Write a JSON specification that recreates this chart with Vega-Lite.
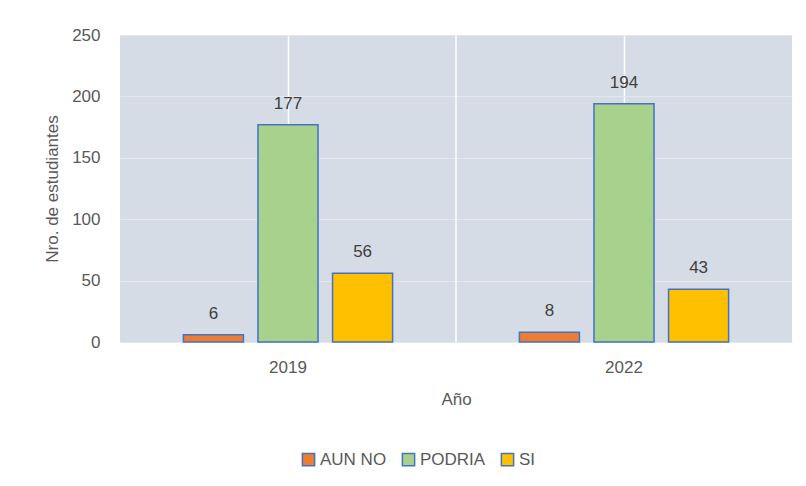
{
  "$schema": "https://vega.github.io/schema/vega-lite/v6.json",
  "width": 672,
  "height": 307,
  "autosize": {"type": "none"},
  "padding": {"left": 120, "top": 35, "right": 14, "bottom": 144},
  "background": "white",
  "config": {
    "font": "Liberation Sans",
    "view": {"fill": "#D6DCE5", "stroke": null}
  },
  "data": {
    "values": [
      {"Año": "2019", "Categoria": "AUN NO", "n": 6},
      {"Año": "2019", "Categoria": "PODRIA", "n": 177},
      {"Año": "2019", "Categoria": "SI", "n": 56},
      {"Año": "2022", "Categoria": "AUN NO", "n": 8},
      {"Año": "2022", "Categoria": "PODRIA", "n": 194},
      {"Año": "2022", "Categoria": "SI", "n": 43}
    ]
  },
  "encoding": {
    "x": {
      "field": "Año", "type": "nominal",
      "scale": {"paddingInner": 0, "paddingOuter": 0},
      "axis": {
        "labelAngle": 0, "domain": false, "ticks": false,
        "labelFontSize": 17, "labelColor": "#595959", "labelPadding": 17,
        "title": "Año", "titleFontSize": 17, "titleFontWeight": "normal",
        "titleColor": "#595959", "titlePadding": 16,
        "grid": true, "gridColor": "#FFFFFF", "gridWidth": 1.5
      }
    },
    "xOffset": {
      "field": "Categoria", "type": "nominal",
      "scale": {"paddingInner": 0.195, "paddingOuter": 0.85}
    },
    "y": {
      "field": "n", "type": "quantitative",
      "scale": {"domain": [0, 250]},
      "axis": {
        "tickCount": 5, "domain": false, "ticks": false,
        "labelFontSize": 17, "labelColor": "#595959", "labelPadding": 20,
        "title": "Nro. de estudiantes", "titleFontSize": 17, "titleFontWeight": "normal",
        "titleColor": "#595959", "titlePadding": 10,
        "gridColor": "#E4E7EC", "gridWidth": 1
      }
    }
  },
  "layer": [
    {
      "data": {"values": [{"Año": "2019"}]},
      "mark": {"type": "rule", "color": "#FFFFFF", "strokeWidth": 1.5},
      "encoding": {
        "x": {"field": "Año", "type": "nominal", "bandPosition": 1},
        "xOffset": null,
        "y": null
      }
    },
    {
      "mark": {"type": "bar", "stroke": "#4472C4", "strokeWidth": 1.5},
      "encoding": {
        "color": {
          "field": "Categoria", "type": "nominal",
          "scale": {"domain": ["AUN NO", "PODRIA", "SI"], "range": ["#ED7D31", "#A9D18E", "#FFC000"]},
          "legend": {
            "orient": "none", "legendX": 180, "legendY": 416,
            "direction": "horizontal", "title": null,
            "symbolType": "square", "symbolSize": 150,
            "symbolStrokeColor": "#4472C4", "symbolStrokeWidth": 1.5,
            "labelFontSize": 17, "labelColor": "#595959",
            "columnPadding": 12, "labelOffset": 3
          }
        }
      }
    },
    {
      "mark": {"type": "text", "baseline": "bottom", "dy": -12, "fontSize": 17, "color": "#404040"},
      "encoding": {"text": {"field": "n", "type": "quantitative"}}
    }
  ]
}
